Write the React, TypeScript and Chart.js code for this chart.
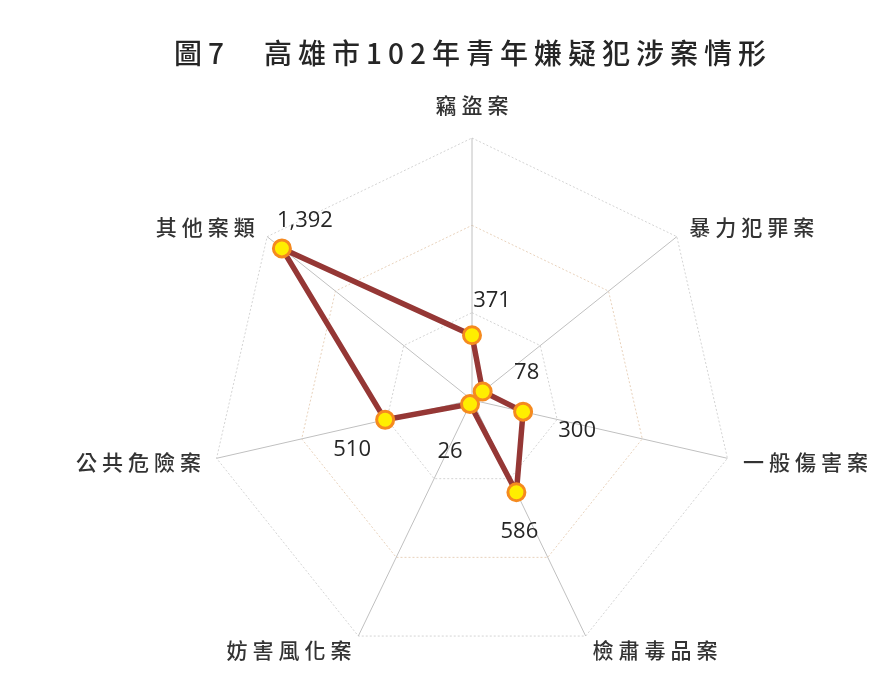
import React, { useEffect, useRef } from "react";
import { Chart, registerables } from "chart.js";

Chart.register(...registerables);

const titleText = "圖7　高雄市102年青年嫌疑犯涉案情形";
const categories = ["竊盜案", "暴力犯罪案", "一般傷害案", "檢肅毒品案", "妨害風化案", "公共危險案", "其他案類"];
const values = [371, 78, 300, 586, 26, 510, 1392];
const scaleMin = 0;
const scaleMax = 1500;
const scaleStep = 500;

// label placement offsets (px) for value labels, relative to each point
const valueLabelOffsets = [
  [20, -34],
  [44, -19],
  [54, 19],
  [3, 40],
  [-20, 48],
  [-33, 30],
  [23, -28],
];

const labelsPlugin = {
  id: "customLabels",
  afterDatasetsDraw(chart: any) {
    const ctx = chart.ctx;
    const scale = chart.scales.r;
    // category labels
    ctx.save();
    ctx.font = '500 21px "Noto Sans CJK TC", "Noto Sans CJK SC", sans-serif';
    ctx.fillStyle = "#333333";
    (ctx as any).letterSpacing = "5px";
    ctx.textBaseline = "middle";
    categories.forEach((label, i) => {
      const p = scale.getPointPosition(i, scale.drawingArea + 16);
      const ang = scale.getIndexAngle(i) - Math.PI / 2;
      const c = Math.cos(ang);
      const s = Math.sin(ang);
      let x = p.x;
      let y = p.y;
      if (Math.abs(c) < 0.05) {
        ctx.textAlign = "center";
        x += 2.5;
        y += s * 17;
      } else {
        ctx.textAlign = c > 0 ? "left" : "right";
        if (c < 0) x += 5;
      }
      ctx.fillText(label, x, y);
    });
    ctx.restore();

    // value labels
    const meta = chart.getDatasetMeta(0);
    ctx.save();
    ctx.font = '400 22px "Open Sans", sans-serif';
    ctx.fillStyle = "#262626";
    ctx.textAlign = "center";
    ctx.textBaseline = "middle";
    meta.data.forEach((pt: any, i: number) => {
      const [dx, dy] = valueLabelOffsets[i];
      ctx.fillText(values[i].toLocaleString("en-US"), pt.x + dx, pt.y + dy);
    });
    ctx.restore();

    // title
    ctx.save();
    ctx.font = '500 28px "Noto Sans CJK TC", "Noto Sans CJK SC", sans-serif';
    ctx.fillStyle = "#262626";
    (ctx as any).letterSpacing = "6px";
    ctx.textAlign = "center";
    ctx.textBaseline = "middle";
    ctx.fillText(titleText, 473, 53);
    ctx.restore();
  },
};

export default function App() {
  const ref = useRef<HTMLCanvasElement>(null);
  useEffect(() => {
    if (!ref.current) return;
    const chart = new Chart(ref.current, {
      type: "radar",
      data: {
        labels: categories,
        datasets: [
          {
            data: values,
            borderColor: "#953735",
            borderWidth: 5.5,
            fill: false,
            pointRadius: 8.5,
            pointBorderWidth: 3,
            pointBackgroundColor: "#ffee00",
            pointBorderColor: "#f58a1f",
            tension: 0,
          },
        ],
      },
      options: {
        responsive: false,
        maintainAspectRatio: false,
        animation: false,
        devicePixelRatio: 1,
        layout: { padding: { left: 210, right: 143, top: 138, bottom: 22 } },
        plugins: {
          legend: { display: false },
          tooltip: { enabled: false },
          title: { display: false },
        },
        scales: {
          r: {
            min: scaleMin,
            max: scaleMax,
            ticks: { display: false, stepSize: scaleStep },
            pointLabels: { display: false },
            angleLines: { color: "#c0c0c0", lineWidth: 1 },
            grid: {
              color: (c: any) => (c.index === 2 ? "#e8d2bc" : "#d4d4d4"),
              lineWidth: 1,
            },
            border: { dash: [2, 2] },
          },
        },
      },
      plugins: [labelsPlugin],
    });
    return () => chart.destroy();
  }, []);
  return (
    <div style={{ position: "absolute", left: 0, top: 0, width: 877, height: 684, background: "#ffffff" }}>
      <canvas ref={ref} width={877} height={684} style={{ display: "block" }} />
    </div>
  );
}
